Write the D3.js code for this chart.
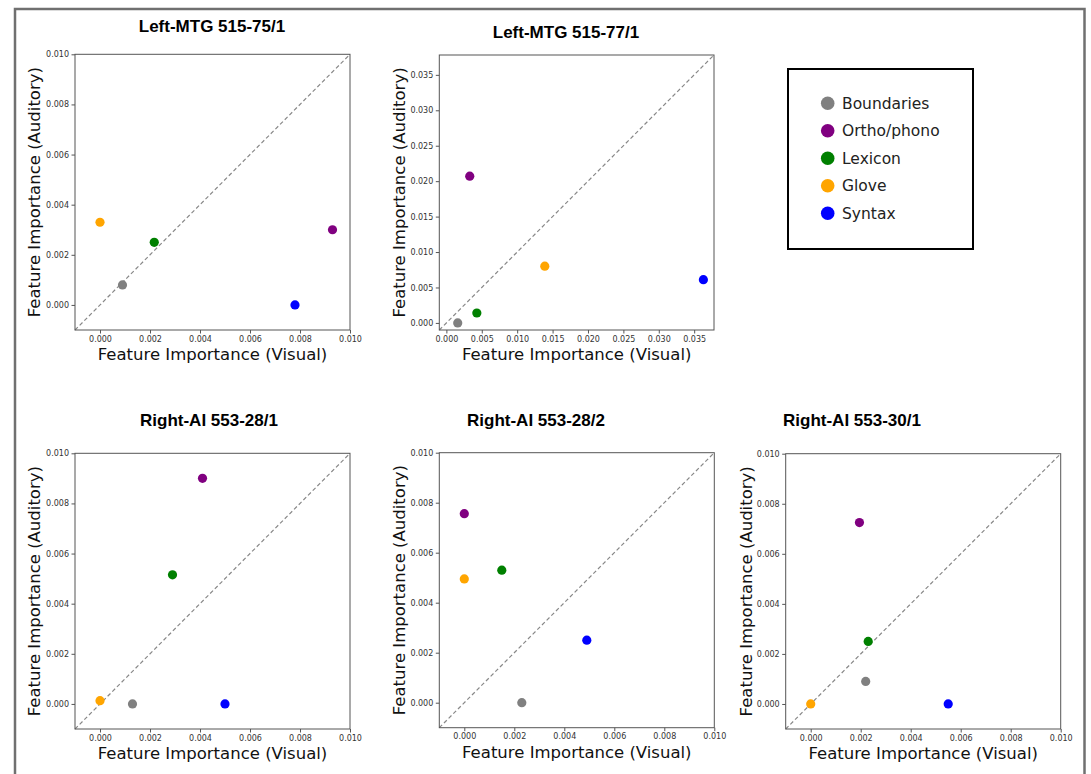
<!DOCTYPE html>
<html lang="en">
<head>
    <meta charset="UTF-8">
    <title>Feature importance: visual vs auditory</title>
    <script src="https://cdn.jsdelivr.net/npm/d3@7"></script>
    <style>
        body { margin: 0; background: #fff; }
        .titulo { font-family: 'Liberation Sans', Arial, sans-serif; font-weight: bold; font-size: 17px; fill: #000; }
        .ejeTexto { font-family: 'DejaVu Sans', sans-serif; font-size: 16.5px; fill: #111; }
        .tick text { font-family: 'DejaVu Sans', sans-serif; font-size: 8px; fill: #333; }
        .tick line { stroke: #555; }
        .caja { fill: none; stroke: #555; stroke-width: 1; }
        .diagonal { stroke: #888; stroke-width: 1.2; stroke-dasharray: 4 2.6; }
        .leyendaTexto { font-family: 'DejaVu Sans', sans-serif; font-size: 15.5px; fill: #222; }
    </style>
</head>
<body>
<div id="grafico"></div>
<script>

// categorias y colores
var categorias = ["Boundaries", "Ortho/phono", "Lexicon", "Glove", "Syntax"];
var colores = ["grey", "purple", "green", "orange", "blue"];

// titulos de cada panel
var titulos = ["Left-MTG 515-75/1", "Left-MTG 515-77/1", "Right-AI 553-28/1", "Right-AI 553-28/2", "Right-AI 553-30/1"];

// valores (visual, auditivo) por panel, en orden de categorias
var visual1 = [0.0009, 0.0093, 0.00217, 0.0, 0.0078];
var auditivo1 = [0.0008, 0.0030, 0.0025, 0.0033, 0.0];
var visual2 = [0.0016, 0.0033, 0.0043, 0.0139, 0.0363];
var auditivo2 = [0.0, 0.0207, 0.0014, 0.0080, 0.0061];
var visual3 = [0.0013, 0.0041, 0.0029, 0.0, 0.0050];
var auditivo3 = [0.0, 0.0090, 0.00515, 0.00013, 0.0];
var visual4 = [0.0023, 0.0, 0.0015, 0.0, 0.0049];
var auditivo4 = [0.0, 0.00756, 0.0053, 0.00495, 0.0025];
var visual5 = [0.0022, 0.00195, 0.0023, 0.0, 0.0055];
var auditivo5 = [0.0009, 0.00725, 0.0025, 0.0, 0.0];

// limites de ejes y ticks
var limites = [[-0.001, 0.010], [-0.001, 0.0378], [-0.001, 0.010], [-0.001, 0.010], [-0.001, 0.010]];
var ticks = [
    [0, 0.002, 0.004, 0.006, 0.008, 0.010],
    [0, 0.005, 0.010, 0.015, 0.020, 0.025, 0.030, 0.035],
    [0, 0.002, 0.004, 0.006, 0.008, 0.010],
    [0, 0.002, 0.004, 0.006, 0.008, 0.010],
    [0, 0.002, 0.004, 0.006, 0.008, 0.010]
];

var visuales = [visual1, visual2, visual3, visual4, visual5];
var auditivos = [auditivo1, auditivo2, auditivo3, auditivo4, auditivo5];

// posicion de cada panel en la pagina
var cajas = [
    {x0: 75, x1: 350, y0: 54.3, y1: 330, tx: 212, ty: 32, ly: 40},
    {x0: 439.3, x1: 714, y0: 55, y1: 330, tx: 566, ty: 38, ly: 405},
    {x0: 75, x1: 350, y0: 453.3, y1: 729, tx: 209, ty: 426, ly: 40},
    {x0: 439.3, x1: 714.3, y0: 452.7, y1: 727.7, tx: 536, ty: 426, ly: 405},
    {x0: 785.7, x1: 1060.7, y0: 453.7, y1: 729, tx: 852, ty: 426, ly: 752}
];

var w = 1091;
var h = 774;

var svg = d3.select("#grafico")
    .append("svg")
    .attr("width", w)
    .attr("height", h);

// marco gris
svg.append("rect")
    .attr("x", 15)
    .attr("y", 9)
    .attr("width", 1069.5)
    .attr("height", 820)
    .attr("fill", "none")
    .attr("stroke", "#707070")
    .attr("stroke-width", 2.5);

var formato = d3.format(".3f");

cajas.forEach(function(c, p){
    var xScale = d3.scaleLinear().domain(limites[p]).range([c.x0, c.x1]);
    var yScale = d3.scaleLinear().domain(limites[p]).range([c.y1, c.y0]);

    var g = svg.append("g");

    g.append("line")
        .classed("diagonal", true)
        .attr("x1", xScale(limites[p][0]))
        .attr("y1", yScale(limites[p][0]))
        .attr("x2", xScale(limites[p][1]))
        .attr("y2", yScale(limites[p][1]));

    var ejeX = g.append("g")
        .attr("transform", "translate(0," + c.y1 + ")")
        .call(d3.axisBottom(xScale).tickValues(ticks[p]).tickFormat(formato).tickSize(3.5).tickPadding(2.5));
    ejeX.select(".domain").remove();

    var ejeY = g.append("g")
        .attr("transform", "translate(" + c.x0 + ",0)")
        .call(d3.axisLeft(yScale).tickValues(ticks[p]).tickFormat(formato).tickSize(3.5).tickPadding(2.5));
    ejeY.select(".domain").remove();

    g.append("rect")
        .classed("caja", true)
        .attr("x", c.x0)
        .attr("y", c.y0)
        .attr("width", c.x1 - c.x0)
        .attr("height", c.y1 - c.y0);

    g.selectAll(".punto")
        .data(categorias)
        .enter()
        .append("circle")
        .attr("cx", function(d, i){ return xScale(visuales[p][i]); })
        .attr("cy", function(d, i){ return yScale(auditivos[p][i]); })
        .attr("r", 4.6)
        .attr("fill", function(d, i){ return colores[i]; });

    g.append("text")
        .classed("titulo", true)
        .attr("x", c.tx)
        .attr("y", c.ty)
        .attr("text-anchor", "middle")
        .text(titulos[p]);

    g.append("text")
        .classed("ejeTexto", true)
        .attr("x", (c.x0 + c.x1) / 2)
        .attr("y", c.y1 + 30)
        .attr("text-anchor", "middle")
        .text("Feature Importance (Visual)");

    g.append("text")
        .classed("ejeTexto", true)
        .attr("transform", "translate(" + c.ly + "," + (c.y0 + c.y1) / 2 + ") rotate(-90)")
        .attr("text-anchor", "middle")
        .text("Feature Importance (Auditory)");
});

// leyenda
var leyenda = svg.append("g");
leyenda.append("rect")
    .attr("x", 788)
    .attr("y", 69)
    .attr("width", 185)
    .attr("height", 180)
    .attr("fill", "none")
    .attr("stroke", "#000")
    .attr("stroke-width", 2);

leyenda.selectAll("circle")
    .data(categorias)
    .enter()
    .append("circle")
    .attr("cx", 827.7)
    .attr("cy", function(d, i){ return 103.3 + i * 27.5; })
    .attr("r", 6.8)
    .attr("fill", function(d, i){ return colores[i]; });

leyenda.selectAll(".leyendaTexto")
    .data(categorias)
    .enter()
    .append("text")
    .classed("leyendaTexto", true)
    .attr("x", 842)
    .attr("y", function(d, i){ return 103.3 + i * 27.5; })
    .attr("dy", "0.36em")
    .text(function(d){ return d; });

</script>
</body>
</html>
